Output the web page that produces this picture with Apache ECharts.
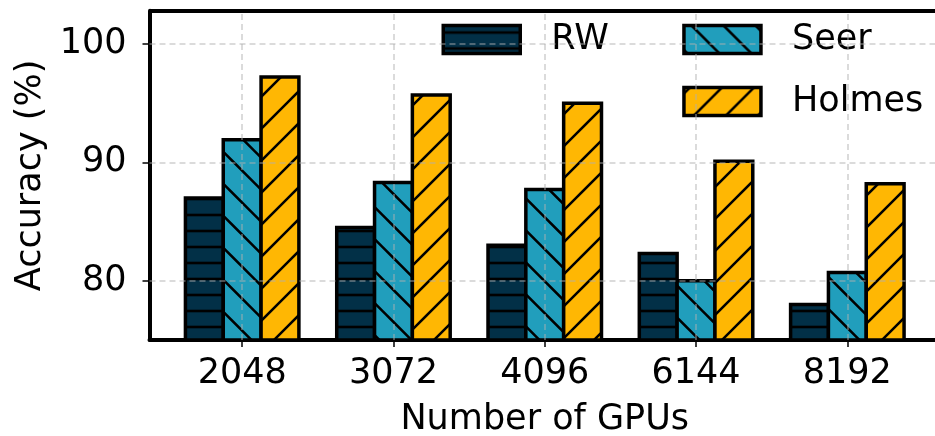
<!DOCTYPE html>
<html>
<head>
<meta charset="utf-8">
<script src="https://cdn.jsdelivr.net/npm/echarts@6/dist/echarts.min.js"></script>
<style>
  html, body { margin: 0; padding: 0; background: #fff; }
  #chart { width: 935px; height: 436px; }
</style>
</head>
<body>
<div id="chart"></div>
<script>
// GPU counts on the x axis
const categories = ['2048', '3072', '4096', '6144', '8192'];
// Accuracy (%) per method
const rwValues = [87.0, 84.5, 83.0, 82.3, 78.0];
const seerValues = [91.9, 88.3, 87.7, 80.0, 80.7];
const holmesValues = [97.2, 95.7, 95.0, 90.1, 88.2];
const yTicks = [80, 90, 100];

const FONT = 'DejaVu Sans';
const Y_MIN = 75, Y_MAX = 102.8;
const BAR_W = 0.25;
const EDGE = 3.5;

// Hatch fills painted onto small tiles used as repeating patterns
function hatch(fill, kind) {
  const size = kind === 'h' ? 16 : 32;
  const c = document.createElement('canvas');
  c.width = size; c.height = size;
  const g = c.getContext('2d');
  g.fillStyle = fill;
  g.fillRect(0, 0, size, size);
  g.strokeStyle = '#000';
  g.lineWidth = 2.6;
  g.beginPath();
  if (kind === 'h') {
    g.moveTo(-2, 7); g.lineTo(size + 2, 7);
  } else if (kind === '/') {
    [-26, 6, 38, 70].forEach(k => { g.moveTo(k + 12, -12); g.lineTo(k - 44, 44); });
  } else {
    [-39.5, -7.5, 24.5, 56.5].forEach(k => { g.moveTo(-12, -12 + k); g.lineTo(44, 44 + k); });
  }
  g.stroke();
  return { image: c, repeat: 'repeat' };
}

const fills = {
  RW: hatch('#023047', 'h'),
  Seer: hatch('#219EBC', '\\'),
  Holmes: hatch('#FFB703', '/')
};

function barSeries(name, values, offset) {
  return {
    name: name,
    type: 'custom',
    itemStyle: { color: fills[name], borderColor: '#000', borderWidth: EDGE },
    data: values.map((v, i) => [i, v]),
    encode: { x: 0, y: 1 },
    z: 3,
    renderItem: function (params, api) {
      const x = api.value(0) + offset;
      const top = api.coord([x, api.value(1)]);
      const base = api.coord([x, Y_MIN]);
      const w = api.size([BAR_W, 0])[0];
      return {
        type: 'rect',
        shape: { x: top[0] - w / 2, y: top[1], width: w, height: base[1] - top[1] },
        style: { fill: fills[name], stroke: '#000', lineWidth: EDGE }
      };
    }
  };
}

const gridLine = { color: 'rgba(176,176,176,0.6)', width: 1.5, type: [6, 4] };

const legendText = {
  fontFamily: FONT, fontSize: 35, color: '#000',
  rich: { t: { fontFamily: FONT, fontSize: 35, color: '#000', padding: [0, 0, 0, 26] } }
};

const option = {
  animation: false,
  backgroundColor: '#fff',
  grid: { left: 149.5, top: 10.8, width: 790.5, height: 329.2, show: false, outerBoundsMode: 'none', containLabel: false },
  xAxis: {
    type: 'value',
    min: -0.6125,
    max: 4.6125,
    axisLine: { show: true, onZero: false, lineStyle: { color: '#000', width: 4 } },
    axisTick: { show: true, customValues: categories.map((c, i) => i), length: 7, lineStyle: { color: '#000', width: 1.5 } },
    axisLabel: {
      customValues: categories.map((c, i) => i),
      formatter: v => categories[Math.round(v)],
      fontFamily: FONT, fontSize: 35, color: '#000', margin: 16
    },
    splitLine: { show: false },
    name: 'Number of GPUs',
    nameLocation: 'middle',
    nameGap: 62,
    nameTextStyle: { fontFamily: FONT, fontSize: 35, color: '#000' }
  },
  yAxis: {
    type: 'value',
    min: Y_MIN,
    max: Y_MAX,
    axisLine: { show: true, onZero: false, lineStyle: { color: '#000', width: 4 } },
    axisTick: { show: true, customValues: yTicks, length: 7, lineStyle: { color: '#000', width: 1.5 } },
    axisLabel: { customValues: yTicks, fontFamily: FONT, fontSize: 35, color: '#000', margin: 23 },
    splitLine: { show: false },
    name: 'Accuracy (%)',
    nameLocation: 'middle',
    nameGap: 100,
    nameTextStyle: { fontFamily: FONT, fontSize: 35, color: '#000' }
  },
  legend: [
    {
      data: ['RW'],
      left: 441.5, top: 22, padding: 0,
      icon: 'rect', itemWidth: 77, itemHeight: 28,
      itemStyle: { borderColor: '#000', borderWidth: 3.5 },
      formatter: '{t|{name}}',
      textStyle: legendText
    },
    {
      data: ['Seer', 'Holmes'],
      orient: 'vertical',
      left: 682.2, top: 22, padding: 0, itemGap: 27,
      icon: 'rect', itemWidth: 77, itemHeight: 28,
      itemStyle: { borderColor: '#000', borderWidth: 3.5 },
      formatter: '{t|{name}}',
      textStyle: legendText
    }
  ],
  series: [
    barSeries('RW', rwValues, -BAR_W),
    barSeries('Seer', seerValues, 0),
    barSeries('Holmes', holmesValues, BAR_W),
    {
      // dashed grid drawn over the bars
      name: 'grid',
      type: 'line',
      data: [],
      z: 5,
      silent: true,
      markLine: {
        silent: true,
        symbol: 'none',
        label: { show: false },
        lineStyle: gridLine,
        data: yTicks.map(v => ({ yAxis: v })).concat(categories.map((c, i) => ({ xAxis: i })))
      }
    },
    {
      // top frame of the plot area
      name: 'frame',
      type: 'line',
      data: [],
      z: 6,
      silent: true,
      markLine: {
        silent: true,
        symbol: 'none',
        label: { show: false },
        lineStyle: { color: '#000', width: 4, type: 'solid' },
        data: [{ yAxis: Y_MAX }]
      }
    }
  ]
};

const chart = echarts.init(document.getElementById('chart'), null, { renderer: 'canvas' });
chart.setOption(option);
</script>
</body>
</html>
